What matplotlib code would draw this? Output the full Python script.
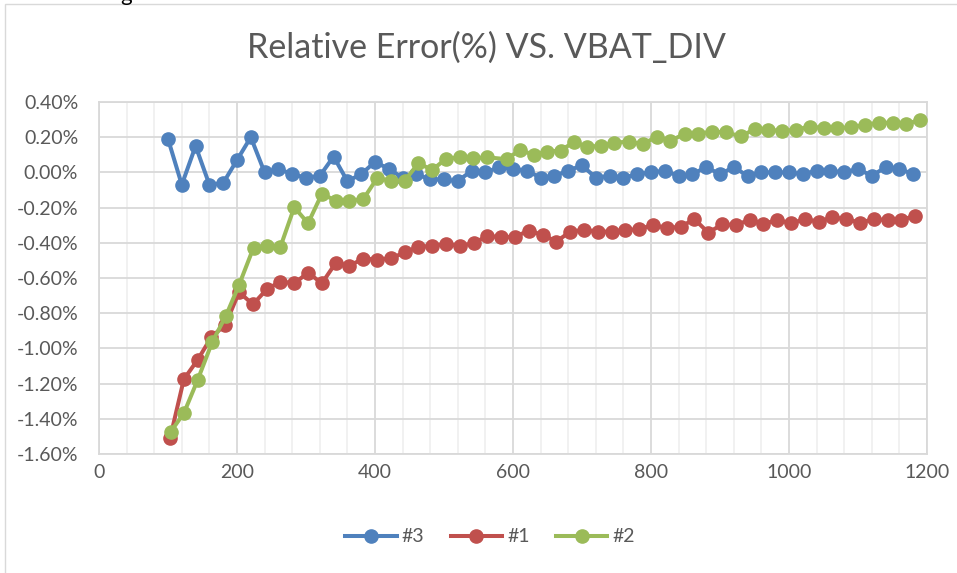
import matplotlib
matplotlib.use("Agg")
import matplotlib.pyplot as plt
from matplotlib.ticker import MultipleLocator, FuncFormatter
from matplotlib.patches import Rectangle

plt.rcParams['font.family'] = ['Lato', 'DejaVu Sans']

title = 'Relative Error(%) VS. VBAT_DIV'

# series #3 (blue)
x3 = [100, 120, 140, 160, 180, 200, 220, 240, 260, 280, 300, 320, 340, 360, 380,
      400, 420, 440, 460, 480, 500, 520, 540, 560, 580, 600, 620, 640, 660, 680,
      700, 720, 740, 760, 780, 800, 820, 840, 860, 880, 900, 920, 940, 960, 980,
      1000, 1020, 1040, 1060, 1080, 1100, 1120, 1140, 1160, 1180]
y3 = [0.19, -0.07, 0.15, -0.07, -0.06, 0.07, 0.20, 0.00, 0.02, -0.01, -0.03, -0.02, 0.09, -0.05, -0.01,
      0.06, 0.02, -0.03, -0.01, -0.04, -0.04, -0.05, 0.01, 0.00, 0.03, 0.02, 0.01, -0.03, -0.02, 0.01,
      0.04, -0.03, -0.02, -0.03, -0.01, 0.00, 0.01, -0.02, -0.01, 0.03, -0.01, 0.03, -0.02, 0.00, 0.00,
      0.00, -0.01, 0.01, 0.01, 0.00, 0.02, -0.02, 0.03, 0.02, -0.01]

# series #1 (red)
x1 = [103, 123, 143, 163, 183, 203, 223, 243, 263, 283, 303, 323, 343, 363, 383,
      403, 423, 443, 463, 483, 503, 523, 543, 563, 583, 603, 623, 643, 663, 683,
      703, 723, 743, 763, 783, 803, 823, 843, 863, 883, 903, 923, 943, 963, 983,
      1003, 1023, 1043, 1063, 1083, 1103, 1123, 1143, 1163, 1183]
y1 = [-1.51, -1.175, -1.065, -0.935, -0.866, -0.68, -0.75, -0.665, -0.62, -0.63, -0.57, -0.63, -0.515, -0.53, -0.49,
      -0.495, -0.488, -0.455, -0.422, -0.418, -0.405, -0.418, -0.402, -0.361, -0.368, -0.365, -0.331, -0.355, -0.393, -0.336,
      -0.327, -0.336, -0.336, -0.327, -0.323, -0.298, -0.317, -0.308, -0.266, -0.342, -0.296, -0.298, -0.27, -0.293, -0.27,
      -0.289, -0.266, -0.28, -0.255, -0.266, -0.285, -0.266, -0.27, -0.27, -0.246]

# series #2 (green)
x2 = [104, 123, 143, 164, 184, 203, 224, 243, 263, 283, 303, 323, 343, 363, 383,
      403, 423, 443, 463, 483, 503, 523, 542, 562, 591, 610, 630, 649, 669, 688,
      707, 727, 747, 768, 788, 808, 828, 849, 868, 889, 908, 930, 950, 970, 990,
      1010, 1030, 1050, 1070, 1090, 1110, 1130, 1150, 1170, 1190]
y2 = [-1.473, -1.368, -1.179, -0.965, -0.814, -0.639, -0.427, -0.416, -0.422, -0.198, -0.289, -0.122, -0.16, -0.16, -0.152,
      -0.033, -0.047, -0.047, 0.052, 0.014, 0.078, 0.086, 0.080, 0.086, 0.075, 0.128, 0.10, 0.118, 0.124, 0.172,
      0.147, 0.15, 0.169, 0.175, 0.16, 0.203, 0.18, 0.219, 0.219, 0.232, 0.228, 0.205, 0.245, 0.243, 0.235,
      0.243, 0.26, 0.253, 0.251, 0.257, 0.27, 0.283, 0.282, 0.276, 0.298]

fig = plt.figure(figsize=(9.57, 5.73), dpi=100)
ax = fig.add_axes([99 / 957, 1 - 454 / 573, 828 / 957, 352 / 573])

# outer chart frame
fig.add_artist(Rectangle((4.5 / 957, -0.05), 1.0, 1 - 3.5 / 573 + 0.05,
                         transform=fig.transFigure, fill=False,
                         ec='#d9d9d9', lw=1))
# cut-off text from the page above the chart
fig.text(120 / 957, 1 - 1 / 573, 'g', fontsize=16, color='black',
         ha='left', va='baseline')

ms = 9.5
lw = 2.9
ax.plot(x3, y3, '-o', color='#4F81BD', lw=lw, ms=ms, label='#3', zorder=3)
ax.plot(x1, y1, '-o', color='#C0504D', lw=lw, ms=ms, label='#1', zorder=4)
ax.plot(x2, y2, '-o', color='#9BBB59', lw=lw, ms=ms, label='#2', zorder=5)

ax.set_xlim(0, 1200)
ax.set_ylim(-1.6, 0.4)
ax.xaxis.set_major_locator(MultipleLocator(200))
ax.xaxis.set_minor_locator(MultipleLocator(40))
ax.yaxis.set_major_locator(MultipleLocator(0.2))
ax.yaxis.set_major_formatter(FuncFormatter(lambda v, p: '%.2f%%' % v if abs(v) > 1e-9 else '0.00%'))

ax.grid(which='major', color='#d9d9d9', lw=1.3)
ax.grid(which='minor', axis='x', color='#f0f0f0', lw=1.3)
ax.set_axisbelow(True)
for s in ax.spines.values():
    s.set_color('#d9d9d9')
    s.set_linewidth(1.3)

ax.tick_params(which='both', length=0, labelsize=14, labelcolor='#595959')
ax.tick_params(axis='y', pad=15)
ax.tick_params(axis='x', pad=7)

fig.text(486 / 957, 1 - 48 / 573, title, fontsize=24.5, color='#595959',
         ha='center', va='center')

ax.legend(loc='center', bbox_to_anchor=(490 / 957, 1 - 537 / 573),
          bbox_transform=fig.transFigure, ncol=3, frameon=False,
          fontsize=14, handlelength=2.65, columnspacing=1.35, handletextpad=0.25,
          labelcolor='#595959')

fig.savefig('out.png', dpi=100)
